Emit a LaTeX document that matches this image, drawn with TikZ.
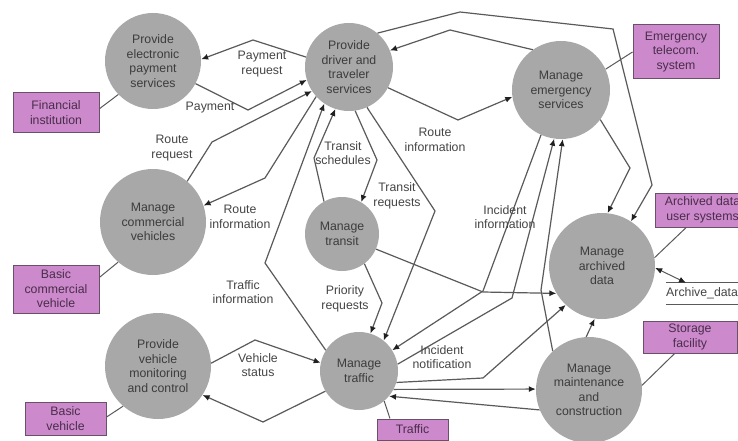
\documentclass[tikz,border=0pt]{standalone}
\usepackage{fontspec}
\setmainfont{Liberation Sans}
\usetikzlibrary{arrows.meta}
\definecolor{procfill}{HTML}{A8A8A8}
\definecolor{termfill}{HTML}{CC8ACC}
\definecolor{termdraw}{HTML}{6A506A}
\definecolor{termtext}{HTML}{4A2D4A}
\definecolor{linecol}{HTML}{5A5A5A}
\definecolor{tipcol}{HTML}{202020}
\definecolor{proctext}{HTML}{3C3C3C}
\definecolor{lbltext}{HTML}{454545}
\begin{document}
\begin{tikzpicture}[x=1pt,y=-1pt,
  font=\fontsize{12.3}{14.5}\selectfont,
  proc/.style={circle, fill=procfill, text=proctext, align=center, inner sep=0pt, minimum size=#1},
  term/.style={rectangle, fill=termfill, draw=termdraw, line width=1pt, text=termtext, align=center, inner sep=0pt},
  tip/.tip={Latex[length=7pt,width=6pt,color=tipcol]},
  flow/.style={draw=linecol, line width=1.2pt, -tip},
  link/.style={draw=linecol, line width=1pt},
  lbl/.style={text=lbltext, align=center, inner sep=0pt},
]
\useasboundingbox (0,0) rectangle (738,441);
\clip (0,0) rectangle (738,441);
\fill[white] (0,0) rectangle (738,441);

% processes
\node[proc=96pt] (p1)  at (153,61)  {Provide\\electronic\\payment\\services};
\node[proc=88pt] (dt)  at (349,67)  {Provide\\driver and\\traveler\\services};
\node[proc=98pt] (es)  at (561,90)  {Manage\\emergency\\services};
\node[proc=106pt] (cv) at (153,222) {Manage\\commercial\\vehicles};
\node[proc=74pt] (mt)  at (342,234) {Manage\\transit};
\node[proc=106pt] (ad) at (602,266) {Manage\\archived\\data};
\node[proc=106pt] (vm) at (158,366) {Provide\\vehicle\\monitoring\\and control};
\node[proc=78pt] (mtr) at (359,371) {Manage\\traffic};
\node[proc=106pt] (mm) at (589,390) {Manage\\maintenance\\and\\construction};

% terminators
\node[term, minimum width=86pt, minimum height=39pt] (fi)  at (56,112.5)  {Financial\\institution};
\node[term, minimum width=86pt, minimum height=54pt] (et)  at (676,52)    {Emergency\\telecom.\\system};
\node[term, minimum width=86pt, minimum height=48pt] (bcv) at (56,289)    {Basic\\commercial\\vehicle};
\node[term, minimum width=95pt, minimum height=34pt] (adu) at (702.5,210) {Archived data\\user systems};
\node[term, minimum width=94pt, minimum height=32pt] (sf)  at (690,337)   {Storage\\facility};
\node[term, minimum width=81pt, minimum height=33pt] (bv)  at (65.5,418.5) {Basic\\vehicle};
\node[term, minimum width=71pt, minimum height=21pt] (tr)  at (412.5,429.5) {Traffic};

% data store
\node[anchor=west, text=lbltext, inner sep=0pt, minimum height=21pt] (arch) at (666,293.5) {Archive\_data};
\draw[link] (arch.north west) -- ++(80,0);
\draw[link] (arch.south west) -- ++(80,0);

% terminator links
\draw[link] (fi.5) -- (p1.224);
\draw[link] (bcv.15) -- (cv.229);
\draw[link] (bv.2) -- (vm.229);
\draw[link] (et.west) -- (es.25);
\draw[link] (adu.227) -- (ad.9);
\draw[link] (sf.227) -- (mm.5);
\draw[link] (tr.154) -- (mtr.310);
\draw[link, tip-tip] (ad.358) -- ([xshift=20pt]arch.north west);

% data flows
\draw[flow] (dt.167) -- (253,40) -- (p1.2);
\draw[flow] (p1.332) -- (248,110) -- (dt.197);
\draw[flow] (cv.50) -- (212,142) -- (dt.213);
\draw[flow] (dt.222) -- (265,178) -- (cv.18);
\draw[flow] (mtr.148) -- (265,263) -- (dt.236);
\draw[flow] (mt.119) -- (314,158) -- (dt.252);
\draw[flow] (dt.278) -- (377,160) -- (mt.59);
\draw[flow] (dt.332) -- (458,120) -- (es.188);
\draw[flow] (dt.294) -- (435,211) -- (mtr.51);
\draw[flow] (mt.307) -- (382,303) -- (mtr.73);
\draw[flow] (vm.3) -- (255,340) -- (mtr.168);
\draw[flow] (mtr.211) -- (263,422) -- (vm.327);
\draw[flow] (mt.336) -- (483,292) -- (ad.211);
\draw[flow] (es.246) -- (483,291) -- (mtr.32);
\draw[flow] (mtr.10) -- (512,298) -- (es.262);
\draw[flow] (mtr.343) -- (483,378) -- (ad.227);
\draw[flow] (mm.133) -- (541,290) -- (es.272);
\draw[flow] (mm.93) -- (ad.262);
\draw[flow] (mtr.332.5) -- (mm.179);
\draw[flow] (mm.202) -- (mtr.320);
\draw[flow] (dt.50) -- (460,12) -- (613,29) -- (652,185) -- (ad.57);
\draw[flow] (es.125) -- (450,30) -- (dt.22);
\draw[flow] (es.323) -- (630,168) -- (ad.84);

% flow labels
\node[lbl] (l1)  at (262,64)  {Payment\\request};
\node[lbl] (l2)  at (210,108) {Payment};
\node[lbl] (l3)  at (172,148) {Route\\request};
\node[lbl] (l4)  at (240,217) {Route\\information};
\node[lbl] (l5)  at (243,292) {Traffic\\information};
\node[lbl] (l6)  at (343,153) {Transit\\schedules};
\node[lbl] (l7)  at (397,196) {Transit\\requests};
\node[lbl] (l8)  at (435,140) {Route\\information};
\node[lbl] (l9)  at (505,217) {Incident\\information};
\node[lbl] (l10) at (345,299) {Priority\\requests};
\node[lbl] (l11) at (258,365) {Vehicle\\status};
\node[lbl] (l12) at (442,357) {Incident\\notification};
\end{tikzpicture}
\end{document}
